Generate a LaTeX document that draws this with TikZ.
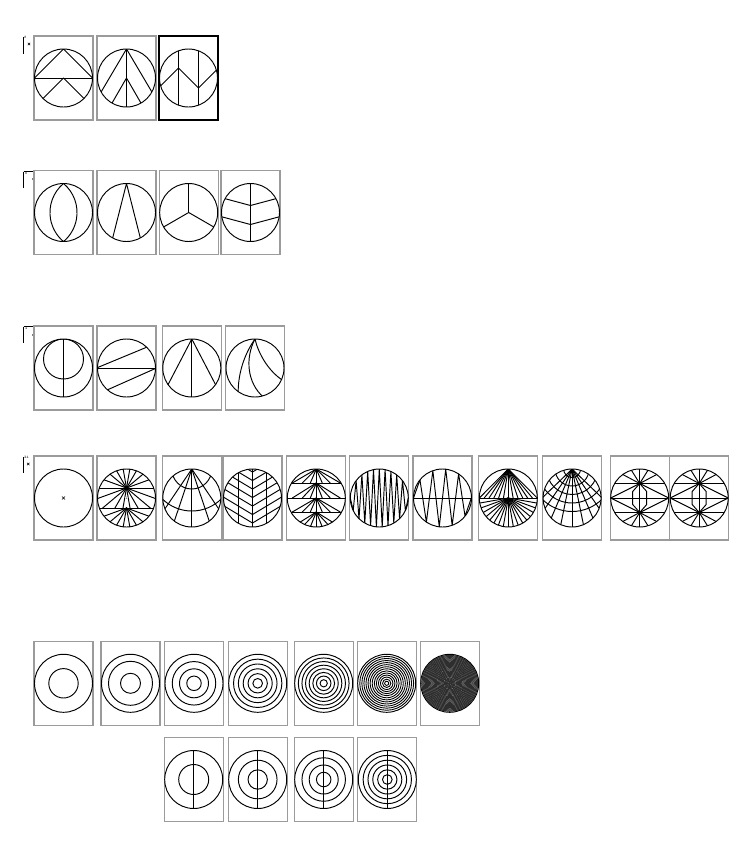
\documentclass[tikz,border=0pt]{standalone}
\definecolor{boxgray}{RGB}{155,155,155}
\tikzset{
 symline/.style={line width=0.95pt, black, line cap=round, line join=round},
 boxline/.style={line width=1.1pt, draw=boxgray},
 blackbox/.style={line width=1.8pt, draw=black},
 markline/.style={line width=0.9pt, black},
 lbl/.style={font=\fontsize{3.5}{4}\selectfont, inner sep=0pt, anchor=north west},
}
\newcommand{\kcell}[4][boxline]{%
  \begin{scope}[shift={(#2,-#3)}]
    \draw[#1] (-29.5,-42) rectangle (29.5,42);
    \begin{scope}[symline]
      \clip (0,0) circle[radius=29];
      #4
    \end{scope}
    \draw[symline] (0,0) circle[radius=29];
  \end{scope}}
\begin{document}
\begin{tikzpicture}[x=1pt,y=1pt]
\fill[white] (0,0) rectangle (750,-862);
\path[use as bounding box] (0,0) rectangle (750,-862);

% ---------- corner marks ----------
\draw[markline] (23.8,-37) -- (23.8,-54);
\node[lbl] (lab1) at (23.9,-35.6) {8};
\draw[line width=0.5pt] (27.8,-42.8) -- (30.2,-45.2) (27.8,-45.2) -- (30.2,-42.8);

\draw[markline] (23.8,-171.7) -- (23.8,-188) (23.8,-171.7) -- (34,-171.7);
\node[lbl] (lab2) at (24.6,-172.2) {8};
\draw[line width=0.4pt] (33.3,-179) circle[radius=0.9];

\draw[markline] (23.8,-326.7) -- (23.8,-343) (23.8,-326.7) -- (34,-326.7);
\node[lbl] (lab3) at (24.6,-327.2) {4};
\draw[line width=0.4pt] (33.3,-335) circle[radius=0.9];

\draw[markline] (23.8,-457) -- (23.8,-473);
\node[lbl] (lab4) at (23.9,-455.6) {24};
\draw[line width=0.5pt] (27.1,-462.8) -- (29.5,-465.2) (27.1,-465.2) -- (29.5,-462.8);

% ---------- row 1 ----------
\kcell{63.5}{78}{%
  \draw (-30,0) -- (30,0);
  \draw (-29,0) -- (0,29) -- (29,0);
  \draw (225:30) -- (0,0) -- (315:30);}
\kcell{126.5}{78}{%
  \draw (0,30) -- (0,-30);
  \draw (210:30) -- (0,29) -- (330:30);
  \draw (240:30) -- (0,0) -- (300:30);}
\kcell[blackbox]{188.5}{78}{%
  \draw (-10,-30) -- (-10,30);
  \draw (10,-30) -- (10,30);
  \draw (-40,-20) -- (-10,10) -- (10,-10) -- (40,20);}

% ---------- row 2 ----------
\kcell{63.5}{212.5}{%
  \draw (0,29) arc[start angle=130,end angle=230,radius=37.9];
  \draw (0,29) arc[start angle=50,end angle=-50,radius=37.9];}
\kcell{126.5}{212.5}{%
  \draw (242:30) -- (0,29) -- (298:30);}
\kcell{188.7}{212.5}{%
  \draw (0,0) -- (90:30);
  \draw (0,0) -- (210:30);
  \draw (0,0) -- (330:30);}
\kcell{250.5}{212.5}{%
  \draw (0,-30) -- (0,30);
  \draw (-40,17.72) -- (0,7) -- (40,17.72);
  \draw (-40,-1.28) -- (0,-12) -- (40,-1.28);}

% ---------- row 3 ----------
\kcell{63.5}{368}{%
  \draw (0,-30) -- (0,30);
  \draw (0,9) circle[radius=20];}
\kcell{126.5}{368}{%
  \draw (-30,0) -- (30,0);
  \draw (180:30) -- (45:30);
  \draw (228:30) -- (0:30);}
\kcell{191.8}{368}{%
  \draw (0,29) -- (0,-30);
  \draw (216:30) -- (0,29) -- (324:30);}
\kcell{255}{368}{%
  \draw (0,29) .. controls (-12,12) and (-17,-8) .. (-16.8,-24.6);
  \draw (0,29) .. controls (-10,10) and (-8,-15) .. (8.6,-29.3);
  \draw (0,29) .. controls (3,16) and (12,-2) .. (28,-12.6);}

% ---------- row 4 ----------
\kcell{63.5}{498}{%
  \draw[line width=0.6pt] (-1.3,-1.3) -- (1.3,1.3) (-1.3,1.3) -- (1.3,-1.3);}
\kcell{126.5}{498}{%
  \draw (-30,10) -- (30,10);
  \draw (-30,-10) -- (30,-10);
  \begin{scope}
    \clip (-30,-10) rectangle (30,30);
    \foreach \a in {0,20,...,340} \draw (0,10) -- ++(\a:45);
  \end{scope}
  \foreach \a in {200,220,...,340} \draw (0,-10) -- ++(\a:45);
  \node[lbl, anchor=center, fill=white, inner sep=0.3pt] (c2) at (0,0) {2};}
\kcell{191.8}{498}{%
  \foreach \a in {-34,-18.5,0,18.5,34} \draw (0,29) -- ++({270+\a}:70);
  \draw (0,29) circle[radius=20];
  \draw (0,29) circle[radius=42];}
\kcell{252.5}{498}{%
  \draw (0,-30) -- (0,30);
  \draw (-14.2,-30) -- (-14.2,30);
  \draw (14.2,-30) -- (14.2,30);
  \foreach \t in {26,17.5,9,0.5,-8,-16.5,-25}
    \draw (-40,\t+24) -- (0,\t) -- (40,\t+24);}
\kcell{316.3}{498}{%
  \draw (-30,15) -- (30,15);
  \draw (-30,0) -- (30,0);
  \draw (-30,-14) -- (30,-14);
  \foreach \t/\b in {29/15,15/0,0/-14,-14/-29}
    \foreach \d in {-24,-14,-6,0,6,14,24} \draw (0,\t) -- (\d,\b);}
\kcell{379.3}{498}{%
  \draw plot[samples at={0,...,20}]
    ({\x*2.9-29},{ifthenelse(mod(\x,2)==0,1,-1)*sqrt(max(0,841-(\x*2.9-29)*(\x*2.9-29)))});}
\kcell{442.5}{498}{%
  \draw (-30,0) -- (30,0);
  \draw plot[samples at={0,...,9}]
    ({\x*6.444-29},{ifthenelse(mod(\x,2)==0,-1,1)*sqrt(max(0,841-(\x*6.444-29)*(\x*6.444-29)))});}
\kcell{508.3}{498}{%
  \draw (-30,0) -- (30,0);
  \foreach \k in {-6,...,6} \draw (0,29) -- (\k*4.83,0);
  \foreach \a in {190,200,...,350} \draw (0,0) -- (\a:35);}
\kcell{572.1}{498}{%
  \foreach \a in {-46,-34.5,-23,-11.5,0,11.5,23,34.5,46} \draw (0,29) -- ++({270+\a}:70);
  \foreach \r in {8.5,17,25.5,34,42.5} \draw (0,29) circle[radius=\r];}
\foreach \cx in {639.7,699.2} {
\kcell{\cx}{498}{%
  \draw (-30,0) -- (30,0);
  \draw (-30,14.5) -- (30,14.5);
  \draw (-30,-14.5) -- (30,-14.5);
  \draw (0,-30) -- (0,30);
  \draw (-29,0) -- (0,14.5) -- (29,0) -- (0,-14.5) -- cycle;
  \draw (0,14.5) -- (-7,6.5) -- (-7,-6.5) -- (0,-14.5) -- (7,-6.5) -- (7,6.5) -- cycle;
  \foreach \a in {28,58,122,152} \draw (0,14.5) -- ++(\a:30);
  \foreach \a in {208,238,302,332} \draw (0,-14.5) -- ++(\a:30);
  \fill (0,14.5) circle[radius=1.7];
  \fill (0,-14.5) circle[radius=1.7];}
}

% ---------- row 5 ----------
\kcell{63.5}{683.3}{\draw (0,0) circle[radius=14.7];}
\kcell{130.5}{683.3}{\draw (0,0) circle[radius=22]; \draw (0,0) circle[radius=10];}
\kcell{194}{683.3}{\foreach \k in {1,2,3} \draw (0,0) circle[radius={29*\k/4}];}
\kcell{257.7}{683.3}{\foreach \k in {1,...,5} \draw (0,0) circle[radius={29*\k/6}];}
\kcell{323.7}{683.3}{\foreach \k in {1,...,7} \draw (0,0) circle[radius={29*\k/8}];}
\kcell{386.7}{683.3}{\foreach \k in {1,...,13} \draw[line width=0.9pt] (0,0) circle[radius={29*\k/14}];}
\kcell{449.7}{683.3}{\foreach \k in {1,...,25} \draw[line width=1.2pt, black!82] (0,0) circle[radius={29*\k/26}];}

% ---------- row 6 ----------
\kcell{193.7}{779.5}{\draw (0,-30) -- (0,30); \draw (0,0) circle[radius=15];}
\kcell{257.7}{779.5}{\draw (0,-30) -- (0,30); \foreach \k in {1,2} \draw (0,0) circle[radius={29*\k/3}];}
\kcell{323.7}{779.5}{\draw (0,-30) -- (0,30); \foreach \k in {1,2,3} \draw (0,0) circle[radius={29*\k/4}];}
\kcell{387.3}{779.5}{\draw (0,-30) -- (0,30); \foreach \k in {1,...,5} \draw (0,0) circle[radius={29*\k/6}];}
\end{tikzpicture}
\end{document}
